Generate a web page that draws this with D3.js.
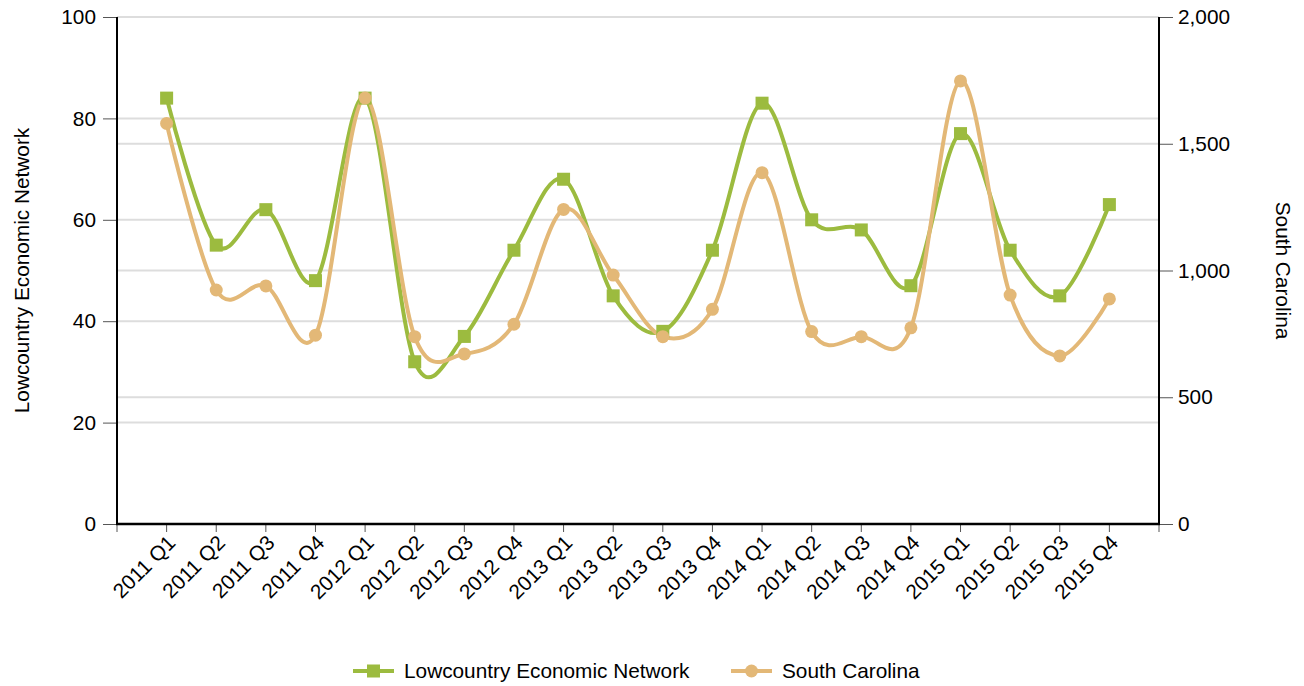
<!DOCTYPE html>
<html><head><meta charset="utf-8">
<script src="https://cdn.jsdelivr.net/npm/d3@7"></script>
<style>body{margin:0;background:#fff}svg{display:block}text{font-family:"Liberation Sans",Arial,sans-serif}</style>
</head><body>
<svg id="c" width="1304" height="686"></svg>
<script>
const categories = ["2011 Q1","2011 Q2","2011 Q3","2011 Q4","2012 Q1","2012 Q2","2012 Q3","2012 Q4","2013 Q1","2013 Q2","2013 Q3","2013 Q4","2014 Q1","2014 Q2","2014 Q3","2014 Q4","2015 Q1","2015 Q2","2015 Q3","2015 Q4"];
const lowcountry = [84,55,62,48,84,32,37,54,68,45,38,54,83,60,58,47,77,54,45,63];
const southCarolina = [1580,923,939,745,1680,739,671,788,1241,982,739,847,1386,759,739,774,1748,903,663,888];
const leftTicks = [0,20,40,60,80,100];
const rightTicks = [0,500,1000,1500,2000];
const seriesNames = ["Lowcountry Economic Network","South Carolina"];
const colors = ["#9cbb3f","#e3b877"];

const FS = 20.8;
const svg = d3.select("#c");
const L = 117, R = 1159, T = 17, B = 524;
const x = d3.scalePoint().domain(categories).range([L, R]).padding(1);
const yL = d3.scaleLinear().domain([0,100]).range([B, T]);
const yR = d3.scaleLinear().domain([0,2000]).range([B, T]);

// gridlines
const grid = svg.append("g");
leftTicks.forEach(t => grid.append("line").attr("x1",L).attr("x2",R).attr("y1",yL(t)).attr("y2",yL(t)).attr("stroke","#dddddd").attr("stroke-width",2));
rightTicks.forEach(t => grid.append("line").attr("x1",L).attr("x2",R).attr("y1",yR(t)).attr("y2",yR(t)).attr("stroke","#dddddd").attr("stroke-width",2));

// left axis
const gl = svg.append("g").attr("transform",`translate(${L},0)`).call(d3.axisLeft(yL).tickValues(leftTicks).tickSize(14).tickPadding(7).tickFormat(d3.format("d")));
gl.select(".domain").remove();
gl.selectAll(".tick line").attr("stroke","#555");
gl.selectAll("text").attr("font-size",FS).attr("fill","#000").attr("font-family","Liberation Sans, Arial");

const gr = svg.append("g").attr("transform",`translate(${R},0)`).call(d3.axisRight(yR).tickValues(rightTicks).tickSize(14).tickPadding(5).tickFormat(d3.format(",")));
gr.select(".domain").remove();
gr.selectAll(".tick line").attr("stroke","#555");
gr.selectAll("text").attr("font-size",FS).attr("fill","#000").attr("font-family","Liberation Sans, Arial");

// bottom ticks
const xt = svg.append("g");
const tickXs = [L].concat(categories.map(c=>x(c))).concat([R]);
tickXs.forEach(tx => xt.append("line").attr("x1",tx).attr("x2",tx).attr("y1",B).attr("y2",B+8).attr("stroke","#555"));
categories.forEach(c => {
  xt.append("text").attr("transform",`translate(${x(c)+5},${B+15}) rotate(-45)`).attr("text-anchor","end").attr("dy","0.35em")
    .attr("font-size",FS).attr("fill","#000").text(c);
});

// axis lines
svg.append("line").attr("x1",L).attr("x2",L).attr("y1",T).attr("y2",B+1).attr("stroke","#000").attr("stroke-width",2);
svg.append("line").attr("x1",R).attr("x2",R).attr("y1",T).attr("y2",B+1).attr("stroke","#000").attr("stroke-width",2);
svg.append("line").attr("x1",L-1).attr("x2",R+1).attr("y1",B).attr("y2",B).attr("stroke","#000").attr("stroke-width",2.5);

// titles
svg.append("text").attr("transform",`translate(29,${(T+B)/2}) rotate(-90)`).attr("text-anchor","middle").attr("font-size",FS).text(seriesNames[0]);
svg.append("text").attr("transform",`translate(1276,${(T+B)/2}) rotate(90)`).attr("text-anchor","middle").attr("font-size",FS).text(seriesNames[1]);

// lines
const curve = d3.curveCardinal.tension(0);
const line1 = d3.line().x((d,i)=>x(categories[i])).y(d=>yL(d)).curve(curve);
const line2 = d3.line().x((d,i)=>x(categories[i])).y(d=>yR(d)).curve(curve);
svg.append("path").attr("d",line1(lowcountry)).attr("fill","none").attr("stroke",colors[0]).attr("stroke-width",4);
svg.append("path").attr("d",line2(southCarolina)).attr("fill","none").attr("stroke",colors[1]).attr("stroke-width",4);

svg.append("g").selectAll("rect").data(lowcountry).join("rect")
  .attr("x",(d,i)=>x(categories[i])-6.5).attr("y",d=>yL(d)-6.5).attr("width",13).attr("height",13).attr("fill",colors[0]);
svg.append("g").selectAll("circle").data(southCarolina).join("circle")
  .attr("cx",(d,i)=>x(categories[i])).attr("cy",d=>yR(d)).attr("r",6.5).attr("fill",colors[1]);

// legend
const lg = svg.append("g").attr("transform","translate(0,671)");
lg.append("line").attr("x1",353).attr("x2",394).attr("stroke",colors[0]).attr("stroke-width",4);
lg.append("rect").attr("x",367).attr("y",-6.5).attr("width",13).attr("height",13).attr("fill",colors[0]);
lg.append("text").attr("x",404).attr("dy","0.35em").attr("font-size",FS).text(seriesNames[0]);
lg.append("line").attr("x1",731).attr("x2",772).attr("stroke",colors[1]).attr("stroke-width",4);
lg.append("circle").attr("cx",751.5).attr("r",6.5).attr("fill",colors[1]);
lg.append("text").attr("x",782).attr("dy","0.35em").attr("font-size",FS).text(seriesNames[1]);
</script>
</body></html>
